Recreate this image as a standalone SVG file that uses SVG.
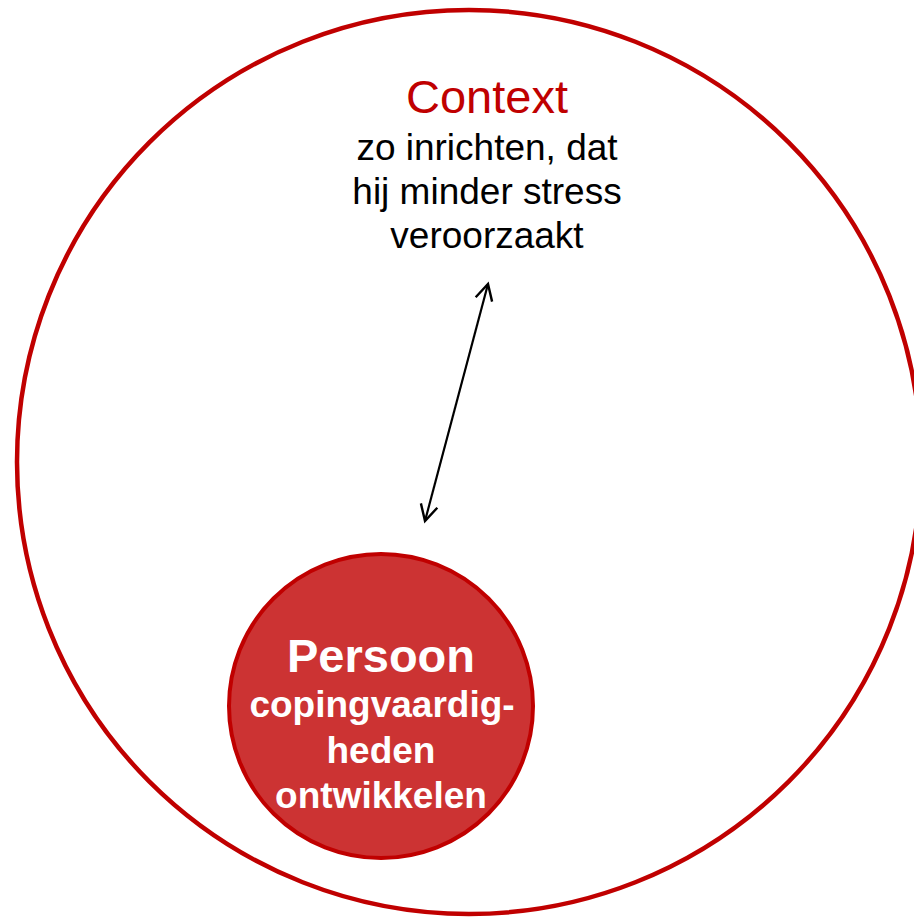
<svg xmlns="http://www.w3.org/2000/svg" width="914" height="917" viewBox="0 0 914 917">
<style>
.t{font-family:"Liberation Sans",Arial,sans-serif;text-anchor:middle}
.ctx{fill:#C00000;font-size:47px}
.blk{fill:#000;font-size:37px}
.w1{fill:#fff;font-size:47px;font-weight:bold}
.w2{fill:#fff;font-size:37px;font-weight:bold}
</style>
<defs>
<marker id="ah" viewBox="0 0 20 20" refX="17" refY="10" markerWidth="20" markerHeight="20" markerUnits="userSpaceOnUse" orient="auto-start-reverse">
<path d="M1,1.5 L17,10 L1,18.5" fill="none" stroke="#000" stroke-width="2.4"/>
</marker>
</defs>
<g id="context">
<circle cx="469" cy="462" r="452" fill="none" stroke="#C00000" stroke-width="4.5"/>
<text class="t ctx" x="487" y="113">Context</text>
<text class="t blk" x="487" y="160">zo inrichten, dat</text>
<text class="t blk" x="487" y="204">hij minder stress</text>
<text class="t blk" x="487" y="248">veroorzaakt</text>
</g>
<g id="connectors">
<line x1="425" y1="521" x2="488" y2="284" stroke="#000" stroke-width="2.2" marker-start="url(#ah)" marker-end="url(#ah)"/>
</g>
<g id="persoon">
<circle cx="381" cy="706" r="152" fill="#CC3333" stroke="#C00000" stroke-width="4"/>
<text class="t w1" x="381" y="672">Persoon</text>
<text class="t w2" x="382" y="717">copingvaardig-</text>
<text class="t w2" x="381" y="763">heden</text>
<text class="t w2" x="381" y="808">ontwikkelen</text>
</g>
</svg>
